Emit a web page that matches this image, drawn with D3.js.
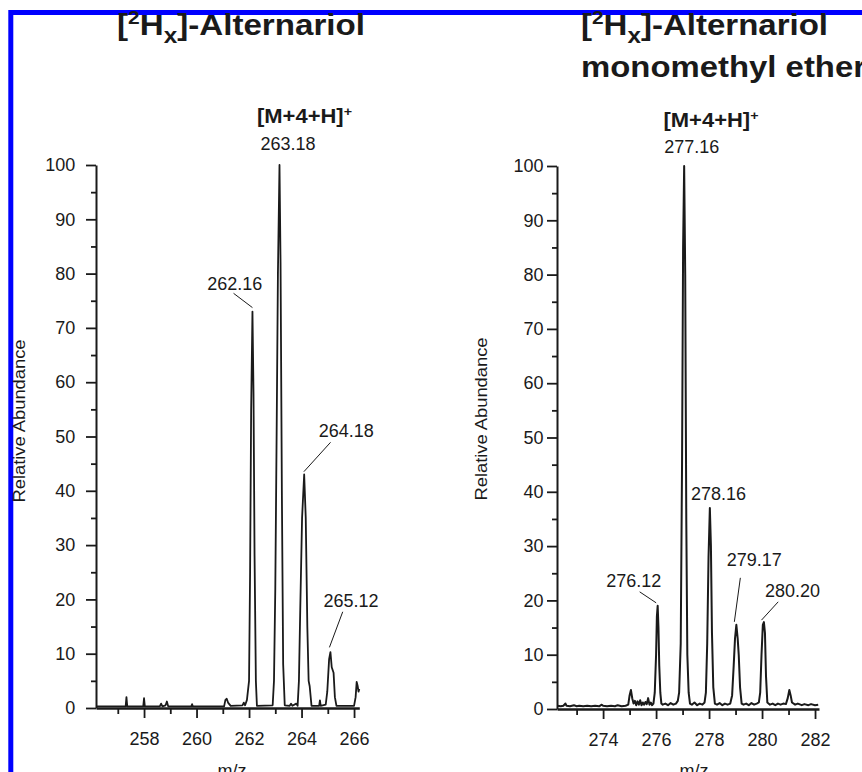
<html>
<head>
<style>
  body { margin: 0; background: #fff; }
  svg text { font-family: "Liberation Sans", Arial, sans-serif; fill: #1a1a1a; }
  .axis path, .axis line { stroke: #1a1a1a; }
</style>
</head>
<body>
<svg id="chart" width="862" height="772"></svg>
<script src="https://cdn.jsdelivr.net/npm/d3@7"></script>
<script>
// ---- data ----
// [2Hx]-Alternariol profile: [m/z, relative abundance]
const altSpectrum = [
  [256.2, 0.3], [257.3, 0.3], [257.33, 2], [257.36, 0.3], [257.97, 0.3], [258.0, 1.8], [258.03, 0.3],
  [258.6, 0.3], [258.65, 0.8], [258.7, 0.3], [258.82, 0.5], [258.87, 1.2], [258.92, 0.3],
  [259.8, 0.3], [259.83, 0.7], [259.86, 0.3], [261.05, 0.3], [261.1, 1.5], [261.15, 1.7],
  [261.2, 1.0], [261.3, 0.4], [261.75, 0.5], [261.8, 1.0], [261.85, 0.5], [261.92, 1.5],
  [262.0, 5], [262.04, 25], [262.08, 55], [262.13, 73], [262.17, 58], [262.21, 28], [262.26, 5], [262.3, 0.4],
  [262.9, 0.5], [262.95, 5], [263.0, 22], [263.05, 50], [263.1, 80], [263.16, 100], [263.2, 82],
  [263.25, 40], [263.3, 8], [263.36, 0.5], [263.55, 0.4], [263.6, 0.8], [263.65, 0.4], [263.8, 0.8], [263.85, 0.4],
  [263.9, 5], [263.95, 18], [264.02, 35], [264.1, 43], [264.16, 35], [264.22, 15], [264.27, 5],
  [264.31, 4], [264.38, 0.4], [264.67, 0.4], [264.7, 1.4], [264.73, 0.4],
  [264.92, 0.6], [264.98, 3], [265.05, 9], [265.1, 10.3], [265.15, 7.5], [265.22, 6.5], [265.27, 2], [265.33, 0.4],
  [266.0, 0.4], [266.06, 2], [266.1, 4.8], [266.14, 4], [266.17, 3], [266.2, 3.5]
];
const altPeaks = [
  { label: "262.16", mz: 262.13, ab: 73 },
  { label: "263.18", mz: 263.16, ab: 100 },
  { label: "264.18", mz: 264.1, ab: 43 },
  { label: "265.12", mz: 265.1, ab: 10.3 }
];

// [2Hx]-Alternariol monomethyl ether profile
const ameSpectrum = [
  [272.27, 0.6], [272.4, 0.5], [272.5, 0.6], [272.58, 1.0], [272.62, 0.6], [272.75, 0.5], [272.9, 0.7],
  [273.0, 0.5], [273.1, 0.6], [273.25, 0.5], [273.4, 0.6], [273.55, 0.5], [273.7, 0.6], [273.85, 0.5],
  [273.95, 0.8], [274.0, 0.6], [274.15, 0.5], [274.3, 0.6], [274.45, 0.5], [274.55, 0.7], [274.7, 0.5],
  [274.85, 0.6], [274.95, 0.8], [275.0, 2.5], [275.05, 3.5], [275.1, 2.0], [275.15, 1.0], [275.2, 1.5],
  [275.25, 0.7], [275.3, 1.4], [275.35, 0.8], [275.4, 1.6], [275.45, 0.7], [275.5, 1.2], [275.55, 0.8],
  [275.6, 1.3], [275.65, 0.9], [275.7, 2.0], [275.75, 0.8], [275.8, 1.2], [275.85, 0.7], [275.9, 1.0],
  [275.95, 3], [276.0, 10], [276.03, 17], [276.06, 19], [276.09, 15], [276.12, 8], [276.16, 3], [276.2, 1.0],
  [276.25, 0.8], [276.35, 1.0], [276.45, 0.7], [276.55, 1.1], [276.65, 0.8], [276.75, 1.0], [276.82, 1.5],
  [276.87, 3], [276.93, 12], [276.98, 45], [277.02, 85], [277.06, 100], [277.1, 80], [277.14, 35],
  [277.18, 10], [277.23, 3], [277.28, 1.0], [277.35, 0.8], [277.45, 1.2], [277.55, 0.7], [277.65, 1.0],
  [277.75, 0.8], [277.83, 1.2], [277.88, 3], [277.93, 12], [277.98, 28], [278.03, 37], [278.07, 30],
  [278.11, 14], [278.16, 4], [278.22, 1.0], [278.3, 0.8], [278.4, 1.1], [278.5, 0.7], [278.6, 1.0],
  [278.7, 0.8], [278.8, 1.0], [278.87, 2.5], [278.93, 8], [278.98, 13], [279.03, 15.5], [279.08, 13],
  [279.12, 10], [279.17, 4], [279.23, 1.0], [279.3, 0.8], [279.4, 1.0], [279.5, 0.7], [279.6, 1.1],
  [279.7, 0.8], [279.8, 1.0], [279.88, 1.2], [279.93, 3], [279.98, 10], [280.03, 15.5], [280.07, 16],
  [280.11, 14], [280.15, 6], [280.2, 1.2], [280.3, 0.8], [280.4, 1.0], [280.5, 0.7], [280.6, 1.0],
  [280.7, 0.8], [280.8, 1.0], [280.9, 0.9], [280.97, 2], [281.03, 3.5], [281.08, 2.5], [281.13, 1.2],
  [281.25, 0.8], [281.35, 1.0], [281.5, 0.7], [281.6, 0.9], [281.75, 0.7], [281.85, 0.9], [282.0, 0.7], [282.12, 0.8]
];
const amePeaks = [
  { label: "276.12", mz: 276.06, ab: 19 },
  { label: "277.16", mz: 277.06, ab: 100 },
  { label: "278.16", mz: 278.03, ab: 37 },
  { label: "279.17", mz: 279.03, ab: 15.5 },
  { label: "280.20", mz: 280.07, ab: 16 }
];

const yMajorTicks = [0, 10, 20, 30, 40, 50, 60, 70, 80, 90, 100];
const yMinorTicks = [5, 15, 25, 35, 45, 55, 65, 75, 85, 95];
const altMajorTicks = [258, 260, 262, 264, 266];
const altMinorTicks = [257, 259, 261, 263, 265];
const ameMajorTicks = [274, 276, 278, 280, 282];
const ameMinorTicks = [273, 275, 277, 279, 281];

const svg = d3.select("#chart");

// blue frame
svg.append("path")
  .attr("d", "M10.8,772 V12.5 H862")
  .attr("fill", "none")
  .attr("stroke", "#0000ff")
  .attr("stroke-width", 5);

function drawPanel(opt) {
  let x = d3.scaleLinear().domain(opt.xDomain).range(opt.xRange);
  let y = d3.scaleLinear().domain([0, 100]).range(opt.yRange);
  let g = svg.append("g");

  // y axis
  g.append("g").attr("class", "axis")
    .attr("transform", `translate(${opt.xRange[0]},0)`)
    .call(d3.axisLeft(y).tickValues(yMajorTicks).tickSize(10).tickSizeOuter(0).tickPadding(opt.yPad))
    .call(a => a.select(".domain").attr("stroke-width", 2))
    .call(a => a.selectAll("line").attr("stroke-width", 1.8))
    .call(a => a.selectAll("text").style("font-size", "18px").attr("fill", "#1a1a1a"));
  g.append("g").attr("class", "axis")
    .attr("transform", `translate(${opt.xRange[0]},0)`)
    .call(d3.axisLeft(y).tickValues(yMinorTicks).tickSize(5).tickFormat(""))
    .call(a => a.select(".domain").remove())
    .call(a => a.selectAll("line").attr("stroke-width", 1.8));

  // x axis
  let y0 = opt.yRange[0];
  g.append("g").attr("class", "axis")
    .attr("transform", `translate(0,${y0})`)
    .call(d3.axisBottom(x).tickValues(opt.xMajor).tickSize(10).tickSizeOuter(0).tickPadding(14.5))
    .call(a => a.select(".domain").attr("stroke-width", 2.5))
    .call(a => a.selectAll("line").attr("stroke-width", 1.8))
    .call(a => a.selectAll("text").style("font-size", "18px").attr("fill", "#1a1a1a"));
  g.append("g").attr("class", "axis")
    .attr("transform", `translate(0,${y0})`)
    .call(d3.axisBottom(x).tickValues(opt.xMinor).tickSize(6).tickFormat(""))
    .call(a => a.select(".domain").remove())
    .call(a => a.selectAll("line").attr("stroke-width", 1.8));

  // spectrum
  let line = d3.line().x(d => x(d[0])).y(d => y(d[1]));
  g.append("path")
    .datum(opt.spectrum)
    .attr("d", line)
    .attr("fill", "none")
    .attr("stroke", "#1a1a1a")
    .attr("stroke-width", opt.lineWidth)
    .attr("stroke-linejoin", "round");

  // peak labels + leader lines
  opt.peaks.forEach((p, i) => {
    let px = x(p.mz), py = y(p.ab);
    let o = opt.labelPos[i];
    g.append("text")
      .attr("x", px + o.tx).attr("y", py + o.ty)
      .attr("text-anchor", "middle")
      .style("font-size", "18px")
      .text(p.label);
    if (o.lead) {
      g.append("line")
        .attr("x1", px + o.lead[0]).attr("y1", py + o.lead[1])
        .attr("x2", px + o.lead[2]).attr("y2", py + o.lead[3])
        .attr("stroke", "#1a1a1a").attr("stroke-width", 1);
    }
  });

  // [M+4+H]+ label
  let ion = g.append("text")
    .attr("x", opt.ion[0]).attr("y", opt.ion[1])
    .attr("text-anchor", "middle")
    .style("font-size", "20px").style("font-weight", "bold")
    .attr("textLength", 95).attr("lengthAdjust", "spacingAndGlyphs");
  ion.append("tspan").text("[M+4+H]");
  ion.append("tspan").attr("baseline-shift", "super").style("font-size", "13px").text("+");

  // y title
  g.append("text")
    .attr("transform", `translate(${opt.yTitle[0]},${opt.yTitle[1]}) rotate(-90)`)
    .attr("text-anchor", "middle")
    .style("font-size", "16px")
    .attr("textLength", 163).attr("lengthAdjust", "spacingAndGlyphs")
    .text("Relative Abundance");

  // x title
  g.append("text")
    .attr("x", opt.xTitle[0]).attr("y", opt.xTitle[1])
    .attr("text-anchor", "middle")
    .style("font-size", "18px")
    .text("m/z");
}

function title(xPos, yPos, len) {
  let t = svg.append("text")
    .attr("x", xPos).attr("y", yPos)
    .style("font-size", "30px").style("font-weight", "bold")
    .attr("textLength", len).attr("lengthAdjust", "spacingAndGlyphs");
  t.append("tspan").text("[");
  t.append("tspan").attr("baseline-shift", "11px").style("font-size", "19px").text("2");
  t.append("tspan").text("H");
  t.append("tspan").attr("baseline-shift", "-8px").style("font-size", "22px").text("x");
  t.append("tspan").text("]-Alternariol");
}

title(117, 35, 248);
title(581, 35, 247);
svg.append("text")
  .attr("x", 581).attr("y", 77)
  .style("font-size", "30px").style("font-weight", "bold")
  .attr("textLength", 285).attr("lengthAdjust", "spacingAndGlyphs")
  .text("monomethyl ether");

drawPanel({
  xDomain: [256.17, 266.2], xRange: [96, 359.3], yRange: [708, 165], yPad: 10.7,
  xMajor: altMajorTicks, xMinor: altMinorTicks,
  spectrum: altSpectrum, peaks: altPeaks, lineWidth: 1.8,
  labelPos: [
    { tx: -17.7, ty: -21.6, lead: [-18.9, -18.3, 0, -4] },
    { tx: 8.5, ty: -15 },
    { tx: 42, ty: -37.5, lead: [26.4, -32.2, -0.3, -2.8] },
    { tx: 20.7, ty: -45.3, lead: [12.3, -40.3, -1, -4.7] }
  ],
  ion: [304.5, 123], yTitle: [25, 421], xTitle: [232, 777]
});

drawPanel({
  xDomain: [272.26, 282.15], xRange: [557, 819], yRange: [709, 166], yPad: 3.5,
  xMajor: ameMajorTicks, xMinor: ameMinorTicks,
  spectrum: ameSpectrum, peaks: amePeaks, lineWidth: 2,
  labelPos: [
    { tx: -24, ty: -19, lead: [-18, -14, -1.5, -3] },
    { tx: 7.6, ty: -13 },
    { tx: 8.6, ty: -8 },
    { tx: 18, ty: -59, lead: [4, -47, -2, -3] },
    { tx: 28.6, ty: -25.3, lead: [14.3, -20.3, -2.4, -2] }
  ],
  ion: [711, 127], yTitle: [487, 419], xTitle: [694, 777]
});
</script>
</body>
</html>
